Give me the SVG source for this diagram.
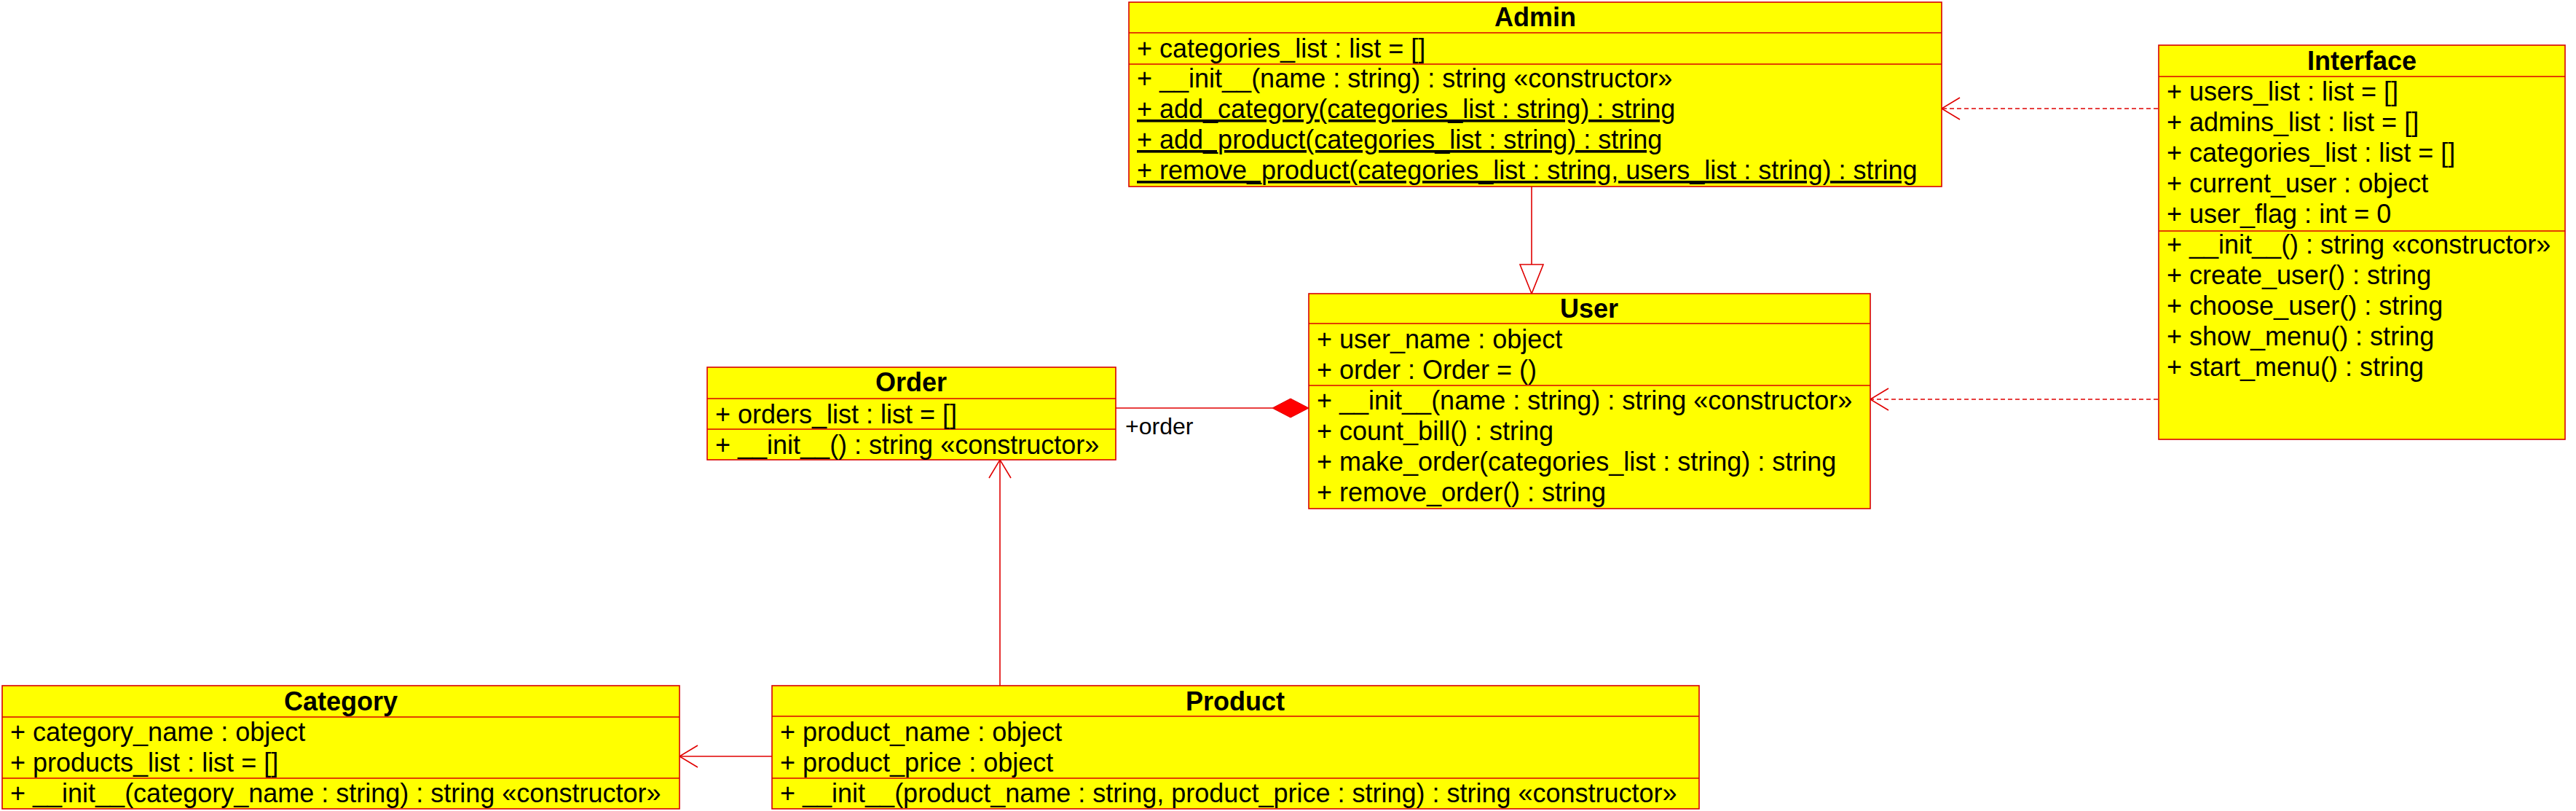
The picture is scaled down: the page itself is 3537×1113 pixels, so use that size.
<svg xmlns="http://www.w3.org/2000/svg" width="3537" height="1113" viewBox="0 0 3537 1113">
<style>
.box{fill:#FFFF00;stroke:#D80000;stroke-width:1.6}
.sep{stroke:#D80000;stroke-width:1.6}
.t{font-family:"Liberation Sans",Arial,sans-serif;font-size:36px;fill:#000}
.title{font-family:"Liberation Sans",Arial,sans-serif;font-size:36px;font-weight:bold;fill:#000;text-anchor:middle}
.u{text-decoration:underline}
.ln{stroke:#E00000;stroke-width:1.6;fill:none}
.dash{stroke-dasharray:6,4}
.lbl{font-family:"Liberation Sans",Arial,sans-serif;font-size:32px;fill:#000}
</style>
<rect width="3537" height="1113" fill="#FFFFFF"/>

<g id="connectors">
  <line class="ln" x1="2103" y1="256" x2="2103" y2="363"/>
  <polygon class="ln" points="2103,403 2087,363 2119,363" style="fill:#FFFFFF"/>
  <line class="ln dash" x1="2963" y1="149" x2="2666" y2="149"/>
  <polyline class="ln" points="2691,134 2666,149 2691,164"/>
  <line class="ln dash" x1="2963" y1="548" x2="2568" y2="548"/>
  <polyline class="ln" points="2593,533 2568,548 2593,563"/>
  <line class="ln" x1="1532" y1="560" x2="1747" y2="560"/>
  <polygon points="1797,560 1772,547 1747,560 1772,573" fill="#FF0000" stroke="#E00000" stroke-width="1"/>
  <text class="lbl" x="1545" y="596">+order</text>
  <line class="ln" x1="1373" y1="941" x2="1373" y2="631"/>
  <polyline class="ln" points="1358,656 1373,631 1388,656"/>
  <line class="ln" x1="1060" y1="1038" x2="933" y2="1038"/>
  <polyline class="ln" points="958,1023 933,1038 958,1053"/>
</g>

<g id="Admin">
  <rect class="box" x="1550" y="3" width="1116" height="253"/>
  <line class="sep" x1="1550" y1="45" x2="2666" y2="45"/>
  <line class="sep" x1="1550" y1="88" x2="2666" y2="88"/>
  <text class="title" x="2108" y="36">Admin</text>
  <text class="t" x="1561" y="79">+ categories_list : list = []</text>
  <text class="t" x="1561" y="120">+ __init__(name : string) : string «constructor»</text>
  <text class="t u" x="1561" y="162">+ add_category(categories_list : string) : string</text>
  <text class="t u" x="1561" y="204">+ add_product(categories_list : string) : string</text>
  <text class="t u" x="1561" y="246">+ remove_product(categories_list : string, users_list : string) : string</text>
</g>

<g id="Interface">
  <rect class="box" x="2964" y="62" width="558" height="541"/>
  <line class="sep" x1="2964" y1="105" x2="3522" y2="105"/>
  <line class="sep" x1="2964" y1="317" x2="3522" y2="317"/>
  <text class="title" x="3243" y="96">Interface</text>
  <text class="t" x="2975" y="138">+ users_list : list = []</text>
  <text class="t" x="2975" y="180">+ admins_list : list = []</text>
  <text class="t" x="2975" y="222">+ categories_list : list = []</text>
  <text class="t" x="2975" y="264">+ current_user : object</text>
  <text class="t" x="2975" y="306">+ user_flag : int = 0</text>
  <text class="t" x="2975" y="348">+ __init__() : string «constructor»</text>
  <text class="t" x="2975" y="390">+ create_user() : string</text>
  <text class="t" x="2975" y="432">+ choose_user() : string</text>
  <text class="t" x="2975" y="474">+ show_menu() : string</text>
  <text class="t" x="2975" y="516">+ start_menu() : string</text>
</g>

<g id="User">
  <rect class="box" x="1797" y="403" width="771" height="295"/>
  <line class="sep" x1="1797" y1="444" x2="2568" y2="444"/>
  <line class="sep" x1="1797" y1="529" x2="2568" y2="529"/>
  <text class="title" x="2182" y="436">User</text>
  <text class="t" x="1808" y="478">+ user_name : object</text>
  <text class="t" x="1808" y="520">+ order : Order = ()</text>
  <text class="t" x="1808" y="562">+ __init__(name : string) : string «constructor»</text>
  <text class="t" x="1808" y="604">+ count_bill() : string</text>
  <text class="t" x="1808" y="646">+ make_order(categories_list : string) : string</text>
  <text class="t" x="1808" y="688">+ remove_order() : string</text>
</g>

<g id="Order">
  <rect class="box" x="971" y="504" width="561" height="127"/>
  <line class="sep" x1="971" y1="547" x2="1532" y2="547"/>
  <line class="sep" x1="971" y1="589" x2="1532" y2="589"/>
  <text class="title" x="1251" y="537">Order</text>
  <text class="t" x="982" y="581">+ orders_list : list = []</text>
  <text class="t" x="982" y="623">+ __init__() : string «constructor»</text>
</g>

<g id="Category">
  <rect class="box" x="3" y="941" width="930" height="169"/>
  <line class="sep" x1="3" y1="984" x2="933" y2="984"/>
  <line class="sep" x1="3" y1="1068" x2="933" y2="1068"/>
  <text class="title" x="468" y="975">Category</text>
  <text class="t" x="14" y="1017">+ category_name : object</text>
  <text class="t" x="14" y="1059">+ products_list : list = []</text>
  <text class="t" x="14" y="1101">+ __init__(category_name : string) : string «constructor»</text>
</g>

<g id="Product">
  <rect class="box" x="1060" y="941" width="1273" height="169"/>
  <line class="sep" x1="1060" y1="983" x2="2333" y2="983"/>
  <line class="sep" x1="1060" y1="1068" x2="2333" y2="1068"/>
  <text class="title" x="1696" y="975">Product</text>
  <text class="t" x="1071" y="1017">+ product_name : object</text>
  <text class="t" x="1071" y="1059">+ product_price : object</text>
  <text class="t" x="1071" y="1101">+ __init__(product_name : string, product_price : string) : string «constructor»</text>
</g>
</svg>
